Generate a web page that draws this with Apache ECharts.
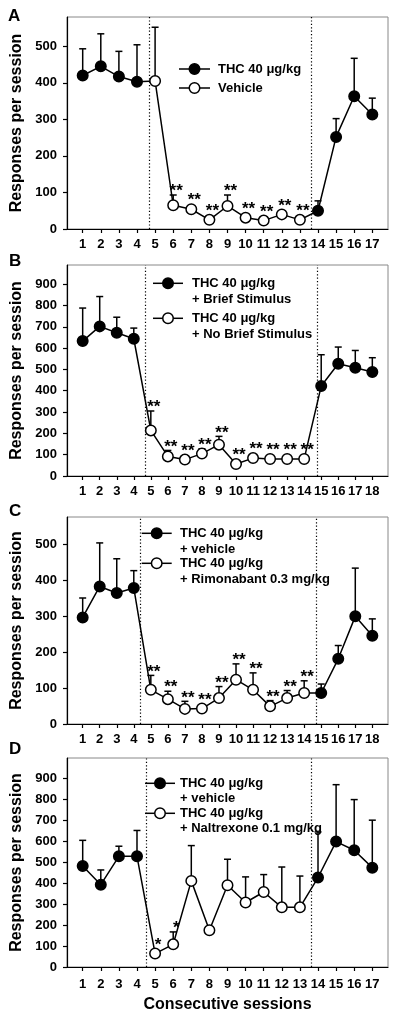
<!DOCTYPE html>
<html><head><meta charset="utf-8">
<script src="https://cdn.jsdelivr.net/npm/echarts/dist/echarts.min.js"></script>
<style>html,body{margin:0;padding:0;background:#fff}#c{width:400px;height:1020px}</style>
</head><body><div id="c"></div>
<script>
// ---------- DATA ----------
const sessionsA = [1,2,3,4,5,6,7,8,9,10,11,12,13,14,15,16,17];
const meansA = [420,445,417,403,405,65,54,25,63,31,23,40,25,50,252,363,313];
const errA   = [73,89,69,101,147,28,8,6,30,8,6,8,6,27,50,104,45];
const openA  = [5,6,7,8,9,10,11,12,13];
const sigA   = ['','','','','','**','**','**','**','**','**','**','**','','','',''];
const dividersA = [4.67, 13.65];
const yTicksA = [0,100,200,300,400,500];

const sessionsB = [1,2,3,4,5,6,7,8,9,10,11,12,13,14,15,16,17,18];
const meansB = [633,702,672,644,214,92,77,105,147,56,84,80,80,80,422,527,508,488];
const errB   = [155,140,73,50,91,28,12,23,39,10,14,10,10,10,147,78,81,67];
const openB  = [5,6,7,8,9,10,11,12,13,14];
const sigB   = ['','','','','**','**','**','**','**','**','**','**','**','**','','','',''];
const dividersB = [4.66, 14.79];
const yTicksB = [0,100,200,300,400,500,600,700,800,900];

const sessionsC = [1,2,3,4,5,6,7,8,9,10,11,12,13,14,15,16,17,18];
const meansC = [296,382,364,378,95,69,42,43,72,123,95,49,72,86,86,181,299,245];
const errC   = [54,121,95,48,40,22,21,10,32,44,47,16,21,34,25,37,134,47];
const openC  = [5,6,7,8,9,10,11,12,13,14];
const sigC   = ['','','','','**','**','**','**','**','**','**','**','**','**','','','',''];
const dividersC = [4.4, 14.73];
const yTicksC = [0,100,200,300,400,500];

const sessionsD = [1,2,3,4,5,6,7,8,9,10,11,12,13,14,15,16,17];
const meansD = [481,392,527,527,64,108,410,175,389,307,357,284,284,426,597,556,473];
const errD   = [122,70,48,123,8,59,168,8,124,122,83,192,149,217,271,241,226];
const openD  = [5,6,7,8,9,10,11,12,13];
const sigD   = ['','','','','*','*','','','','','','','','','','',''];
const dividersD = [4.53, 13.65];
const yTicksD = [0,100,200,300,400,500,600,700,800,900];

const legendA = [['THC 40 μg/kg'], ['Vehicle']];
const legendB = [['THC 40 μg/kg', '+ Brief Stimulus'], ['THC 40 μg/kg', '+ No Brief Stimulus']];
const legendC = [['THC 40 μg/kg', '+ vehicle'], ['THC 40 μg/kg', '+ Rimonabant 0.3 mg/kg']];
const legendD = [['THC 40 μg/kg', '+ vehicle'], ['THC 40 μg/kg', '+ Naltrexone 0.1 mg/kg']];
const panelLetters = ['A','B','C','D'];
const yTitle = 'Responses per session';
const xTitle = 'Consecutive sessions';

// ---------- LAYOUT ----------
const FONT = 'Liberation Sans';
const panels = [
  {s:sessionsA,m:meansA,e:errA,open:openA,sig:sigA,div:dividersA,yt:yTicksA,yMax:580,xMin:0.133,xMax:17.867,top:17,height:212,lm:9,
   leg:legendA,lx1:179,lx2:210,tx:218,rows:[69,88],lh:16,letter:[8,16]},
  {s:sessionsB,m:meansB,e:errB,open:openB,sig:sigB,div:dividersB,yt:yTicksB,yMax:990,xMin:0.08,xMax:18.92,top:265,height:211,lm:9,
   leg:legendB,lx1:153,lx2:183,tx:192,rows:[283.3,318.3],lh:16,letter:[9,261]},
  {s:sessionsC,m:meansC,e:errC,open:openC,sig:sigC,div:dividersC,yt:yTicksC,yMax:575,xMin:0.08,xMax:18.92,top:517,height:207,lm:9,
   leg:legendC,lx1:141.7,lx2:171.7,tx:180,rows:[533.3,563.3],lh:16,letter:[9,511]},
  {s:sessionsD,m:meansD,e:errD,open:openD,sig:sigD,div:dividersD,yt:yTicksD,yMax:995,xMin:0.133,xMax:17.867,top:758,height:209,lm:11,
   leg:legendD,lx1:145,lx2:175,tx:180,rows:[783.3,813.3],lh:15,letter:[9,749.5]}
];

const grids = [], xAxes = [], yAxes = [], series = [], graphics = [];

function errRender(params, api) {
  const x = api.value(0), m = api.value(1), e = api.value(2);
  const p0 = api.coord([x, m]), p1 = api.coord([x, m + e]);
  return {type:'group', children:[
    {type:'line', shape:{x1:p0[0],y1:p0[1],x2:p1[0],y2:p1[1]}, style:{stroke:'#000',lineWidth:1.5}},
    {type:'line', shape:{x1:p1[0]-3.5,y1:p1[1],x2:p1[0]+3.5,y2:p1[1]}, style:{stroke:'#000',lineWidth:1.5}}
  ]};
}

panels.forEach((p, i) => {
  grids.push({left:67, width:321, top:p.top, height:p.height, show:true, borderColor:'#888', borderWidth:1, backgroundColor:'transparent'});
  xAxes.push({type:'value', gridIndex:i, min:p.xMin, max:p.xMax,
    name: i === 3 ? xTitle : '', nameLocation:'middle', nameGap:30,
    nameTextStyle:{color:'#000', fontFamily:FONT, fontWeight:'bold', fontSize:16},
    axisLine:{show:true, onZero:false, lineStyle:{color:'#000', width:1.2}},
    axisTick:{show:true, length:4, customValues:p.s, lineStyle:{color:'#000', width:1.2}},
    axisLabel:{customValues:p.s, color:'#000', fontFamily:FONT, fontWeight:'bold', fontSize:13, margin:p.lm},
    splitLine:{show:false}});
  yAxes.push({type:'value', gridIndex:i, min:0, max:p.yMax,
    name: yTitle, nameLocation:'middle', nameGap:37,
    nameTextStyle:{color:'#000', fontFamily:FONT, fontWeight:'bold', fontSize:16},
    axisLine:{show:true, onZero:false, lineStyle:{color:'#000', width:1.2}},
    axisTick:{show:true, length:4, customValues:p.yt, lineStyle:{color:'#000', width:1.2}},
    axisLabel:{customValues:p.yt, color:'#000', fontFamily:FONT, fontWeight:'bold', fontSize:13, margin:10},
    splitLine:{show:false}});

  series.push({type:'custom', xAxisIndex:i, yAxisIndex:i, z:1, silent:true,
    encode:{x:0, y:1}, data:p.s.map((s,j)=>[s, p.m[j], p.e[j]]), renderItem:errRender});

  series.push({type:'line', xAxisIndex:i, yAxisIndex:i, z:3, silent:true,
    symbol:'circle', symbolSize:10.5, showAllSymbol:true,
    lineStyle:{color:'#000', width:1.5},
    itemStyle:{borderColor:'#000', borderWidth:1.5},
    data:p.s.map((s,j)=>({value:[s, p.m[j]], itemStyle:{color: p.open.includes(s) ? '#fff' : '#000'}})),
    markLine:{silent:true, symbol:['none','none'], label:{show:false}, animation:false,
      lineStyle:{color:'#000', type:[1.2,2.2], width:1.2},
      data:p.div.map(v=>({xAxis:v}))}
  });

  const sig = p.sig;
  series.push({type:'custom', xAxisIndex:i, yAxisIndex:i, z:4, silent:true,
    encode:{x:0, y:1},
    data:p.s.map((s,j)=>[s, p.m[j], p.e[j], j]).filter(d=>sig[d[3]]),
    renderItem:function(params, api){
      const x = api.value(0), m = api.value(1), e = api.value(2), j = api.value(3);
      const pm = api.coord([x, m]), pc = api.coord([x, m + e]);
      const y = Math.min(pm[1] - 13, pc[1] - 8) + 4.5;
      return {type:'text', x: pm[0] + 3, y: y,
        style:{text: sig[j], font:'bold 17px ' + FONT, fill:'#000', align:'center', verticalAlign:'middle'}};
    }});

  // legend
  p.leg.forEach((lines, k) => {
    const cy = p.rows[k];
    graphics.push({type:'line', shape:{x1:p.lx1, y1:cy, x2:p.lx2, y2:cy}, style:{stroke:'#000', lineWidth:1.5}});
    graphics.push({type:'circle', shape:{cx:(p.lx1+p.lx2)/2, cy:cy, r:5.25}, style:{fill: k===0 ? '#000' : '#fff', stroke:'#000', lineWidth:1.5}});
    lines.forEach((t, n) => {
      graphics.push({type:'text', x:p.tx, y:cy + n*p.lh, style:{text:t, font:'bold 13px ' + FONT, fill:'#000', verticalAlign:'middle'}});
    });
  });
  graphics.push({type:'text', x:p.letter[0], y:p.letter[1], style:{text:panelLetters[i], font:'bold 17px ' + FONT, fill:'#000', verticalAlign:'middle'}});
});

const chart = echarts.init(document.getElementById('c'), null, {renderer:'canvas'});
chart.setOption({animation:false, backgroundColor:'#fff', grid:grids, xAxis:xAxes, yAxis:yAxes, series:series, graphic:graphics});
</script></body></html>
